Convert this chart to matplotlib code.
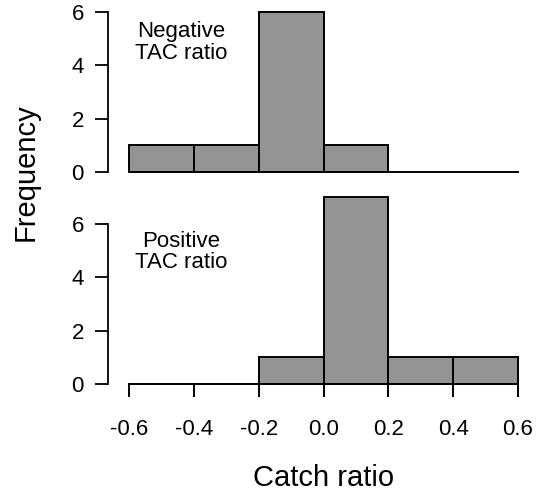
import numpy as np
import matplotlib
matplotlib.use("Agg")
import matplotlib.pyplot as plt

plt.rcParams['font.family'] = ['Liberation Sans', 'DejaVu Sans']

# histogram bins and counts
bin_edges = [-0.6, -0.4, -0.2, 0.0, 0.2, 0.4, 0.6]
neg_counts = [1, 1, 6, 1, 0, 0]
pos_counts = [0, 0, 1, 7, 1, 1]
x_ticks = [-0.6, -0.4, -0.2, 0.0, 0.2, 0.4, 0.6]
x_labels = ['-0.6', '-0.4', '-0.2', '0.0', '0.2', '0.4', '0.6']
y_ticks = [0, 2, 4, 6]

W, H = 539, 494
fig = plt.figure(figsize=(W / 100, H / 100), dpi=100)

def panel(bottom_px, counts, label, label_y, show_x):
    ax = fig.add_axes([129 / W, bottom_px / H, 389 / W, 160 / H])
    left = np.array(bin_edges[:-1])
    width = np.diff(bin_edges)
    for l, w, c in zip(left, width, counts):
        if c > 0:
            ax.bar(l, c, width=w, align='edge', color='#949494',
                   edgecolor='black', linewidth=1.4, clip_on=False, zorder=2)
    ax.plot([bin_edges[0], bin_edges[-1]], [0, 0], color='black', lw=1.4,
            clip_on=False, zorder=3)
    ax.set_xlim(-0.6, 0.6)
    ax.set_ylim(0, 6)
    for s in ['top', 'right', 'bottom']:
        ax.spines[s].set_visible(False)
    ax.spines['left'].set_position(('outward', 15))
    ax.spines['left'].set_bounds(0, 6)
    ax.spines['left'].set_linewidth(1.3)
    ax.set_yticks(y_ticks)
    ax.tick_params(axis='y', length=9.5, width=1.3, labelsize=16, pad=8)
    if show_x:
        ax.set_xticks(x_ticks)
        ax.set_xticklabels(x_labels)
        ax.tick_params(axis='x', length=9.5, width=1.4, labelsize=16, pad=16)
    else:
        ax.set_xticks([])
    ax.text(-0.44, label_y, label, ha='center', va='top', fontsize=16,
            linespacing=1.05)
    ax.patch.set_alpha(0)
    return ax

top = panel(322, neg_counts, 'Negative\nTAC ratio', 5.65, False)
bot = panel(110, pos_counts, 'Positive\nTAC ratio', 5.75, True)

fig.text(324 / W, 1 - 478 / H, 'Catch ratio', ha='center', va='center',
         fontsize=21)
fig.text(26 / W, 1 - 172 / H, 'Frequency', rotation=90, ha='center',
         va='center', fontsize=21)

fig.savefig('out.png', dpi=100)
